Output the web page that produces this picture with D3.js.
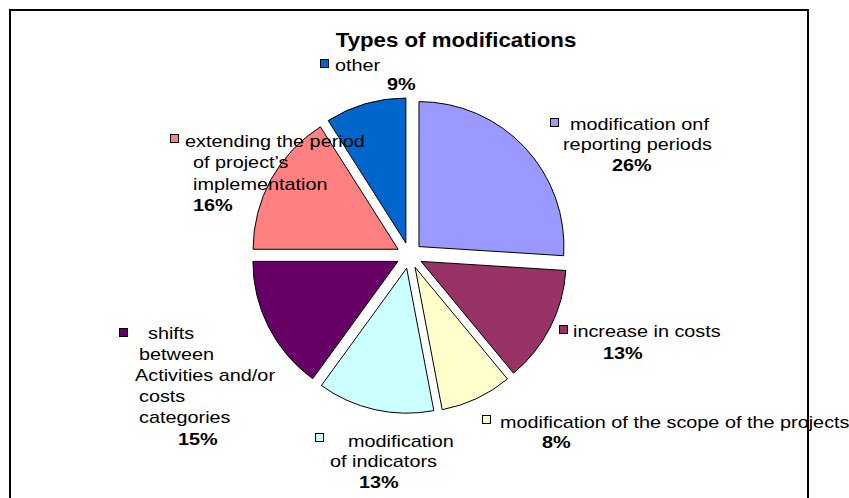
<!doctype html>
<html lang="en">
    <head>
        <meta charset="utf-8">
        <title>Types of modifications</title>
        <style>
            body { margin: 0; background: #fff; }
            text { font-family: "Liberation Sans", Arial, sans-serif; fill: #000; }
        </style>
    </head>
    <body>
        <script src="https://d3js.org/d3.v7.min.js"></script>
        <script>
            // data, clockwise from 12 o'clock
            var categories = ["modification onf reporting periods", "increase in costs",
                              "modification of the scope of the projects", "modification of indicators",
                              "shifts between Activities and/or costs categories",
                              "extending the period of project\u2019s implementation", "other"];
            var values = [26, 13, 8, 13, 15, 16, 9];
            var percentLabels = ["26%", "13%", "8%", "13%", "15%", "16%", "9%"];
            var labelLines = [
                ["modification onf", "reporting periods"],
                ["increase in costs"],
                ["modification of the scope of the projects"],
                ["modification", "of indicators"],
                ["shifts", "between", "Activities and/or", "costs", "categories"],
                ["extending the period", "of project\u2019s", "implementation"],
                ["other"]
            ];
            var colors = ["#9999FF", "#993366", "#FFFFCC", "#CCFFFF", "#660066", "#FF8080", "#0066CC"];

            // label layout: key box, then [x, baseline] for each text line, last one is the percent
            var labelLayout = [
                {key: [550, 118], lines: [[570, 130], [563, 150], [612, 171]]},
                {key: [559, 325], lines: [[573, 337], [603, 359]]},
                {key: [482, 415], lines: [[500, 428], [542, 448]]},
                {key: [315, 433], lines: [[348, 447], [330, 467], [359, 488]]},
                {key: [119, 328], lines: [[148, 339], [139, 360], [135, 381], [139, 402], [139, 423], [178, 445]]},
                {key: [170, 134], lines: [[185, 147], [193, 168], [193, 190], [193, 211]]},
                {key: [320, 59], lines: [[335, 71], [387, 90]]}
            ];

            var width = 849, height = 498;
            var cx = 409.5, cy = 255.5, radius = 145, explode = 13;
            var stretch = 1.24;

            var svg = d3.select("body").append("svg")
                        .attr("width", width)
                        .attr("height", height);

            // outer frame
            svg.append("rect")
                .attr("x", 10).attr("y", 10)
                .attr("width", 798).attr("height", 510)
                .attr("fill", "none")
                .attr("stroke", "#000")
                .attr("stroke-width", 2);

            svg.append("text")
                .attr("transform", "translate(456,47) scale(1.06,1)")
                .attr("text-anchor", "middle")
                .attr("font-size", 21)
                .attr("font-weight", "bold")
                .text("Types of modifications");

            var pie = d3.pie().sort(null).value(function(d) { return d; });
            var arc = d3.arc().innerRadius(0).outerRadius(radius);
            var arcs = pie(values);

            var g = svg.append("g")
                        .attr("transform", "translate(" + cx + "," + cy + ")");

            g.selectAll("path")
                .data(arcs)
                .enter().append("path")
                .attr("d", arc)
                .attr("fill", function(d, i) { return colors[i]; })
                .attr("stroke", "#000")
                .attr("stroke-width", 1)
                .attr("transform", function(d) {
                    var a = (d.startAngle + d.endAngle) / 2;
                    return "translate(" + (Math.sin(a) * explode) + "," + (-Math.cos(a) * explode) + ")";
                });

            // labels
            var labels = svg.selectAll("g.label")
                            .data(categories)
                            .enter().append("g")
                            .attr("class", "label");

            labels.append("rect")
                .attr("x", function(d, i) { return labelLayout[i].key[0] + 0.5; })
                .attr("y", function(d, i) { return labelLayout[i].key[1] + 0.5; })
                .attr("width", 8).attr("height", 8)
                .attr("fill", function(d, i) { return colors[i]; })
                .attr("stroke", "#000")
                .attr("stroke-width", 1);

            labels.each(function(d, i) {
                var lbl = d3.select(this);
                var texts = labelLines[i].concat([percentLabels[i]]);
                texts.forEach(function(t, j) {
                    var p = labelLayout[i].lines[j];
                    var isPct = j === texts.length - 1;
                    lbl.append("text")
                        .attr("transform", "translate(" + p[0] + "," + p[1] + ") scale(" + stretch + ",1)")
                        .attr("font-size", 16)
                        .attr("font-weight", isPct ? "bold" : "normal")
                        .text(t);
                });
            });
        </script>
    </body>
</html>
